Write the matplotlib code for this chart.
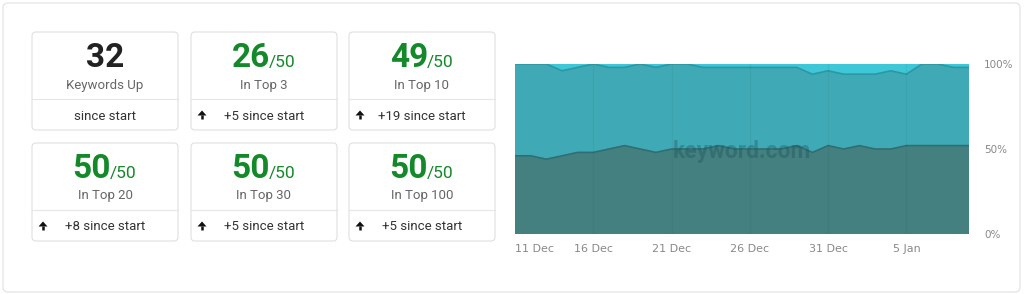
import matplotlib
matplotlib.use("Agg")
import matplotlib.pyplot as plt
from matplotlib.patches import FancyBboxPatch, Polygon
import numpy as np

plt.rcParams['font.family'] = ['Roboto', 'DejaVu Sans']

# ---- data ----
card_values = ['32', '26', '49', '50', '50', '50']
card_totals = [None, '50', '50', '50', '50', '50']
card_labels = ['Keywords Up', 'In Top 3', 'In Top 10', 'In Top 20', 'In Top 30', 'In Top 100']
card_changes = ['since start', '+5 since start', '+19 since start',
                '+8 since start', '+5 since start', '+5 since start']
card_arrows = [False, True, True, True, True, True]

dates = ['11 Dec', '12 Dec', '13 Dec', '14 Dec', '15 Dec', '16 Dec', '17 Dec', '18 Dec',
         '19 Dec', '20 Dec', '21 Dec', '22 Dec', '23 Dec', '24 Dec', '25 Dec', '26 Dec',
         '27 Dec', '28 Dec', '29 Dec', '30 Dec', '31 Dec', '1 Jan', '2 Jan', '3 Jan',
         '4 Jan', '5 Jan', '6 Jan', '7 Jan', '8 Jan', '9 Jan']
top3 = [23, 23, 22, 23, 24, 24, 25, 26, 25, 24, 25, 25, 25, 26, 25,
        25, 25, 25, 26, 24, 26, 25, 26, 25, 25, 26, 26, 26, 26, 26]
top10 = [50, 50, 50, 48, 49, 50, 49, 49, 50, 49, 50, 50, 49, 49, 49,
         49, 49, 49, 49, 47, 48, 47, 47, 47, 48, 47, 50, 50, 49, 49]
top100 = [50, 50, 50, 50, 50, 50, 50, 50, 50, 50, 50, 50, 50, 50, 50,
          50, 50, 50, 50, 50, 50, 50, 50, 50, 50, 50, 50, 50, 50, 50]
total_keywords = 50
tick_labels = ['11 Dec', '16 Dec', '21 Dec', '26 Dec', '31 Dec', '5 Jan']

W, H = 1024, 294
fig = plt.figure(figsize=(W / 100, H / 100), dpi=100)
fig.patch.set_facecolor('white')

# overlay axes in pixel coordinates
bg = fig.add_axes([0, 0, 1, 1])
bg.set_xlim(0, W)
bg.set_ylim(H, 0)
bg.axis('off')

bg.add_patch(FancyBboxPatch((3, 3), 1017, 289, boxstyle='round,pad=0,rounding_size=5',
                            fc='white', ec='#e4e4e4', lw=0.9))

green = '#14892a'
col_x = [32, 191, 349]
row_y = [32, 143]
cw, ch = 146, 98
for i in range(6):
    x0 = col_x[i % 3]
    y0 = row_y[i // 3]
    cx = x0 + cw / 2
    bg.add_patch(FancyBboxPatch((x0, y0), cw, ch, boxstyle='round,pad=0,rounding_size=4',
                                fc='white', ec='#e0e0e0', lw=0.8))
    bg.plot([x0, x0 + cw], [y0 + 67, y0 + 67], color='#e6e6e6', lw=0.8)
    if card_totals[i] is None:
        bg.text(cx, y0 + 35, card_values[i], ha='center', va='baseline',
                fontsize=24, fontweight='bold', color='#222222')
    else:
        bg.text(cx + 6, y0 + 35, card_values[i], ha='right', va='baseline',
                fontsize=24, fontweight='bold', color=green)
        bg.text(cx + 5, y0 + 35, '/' + card_totals[i], ha='left', va='baseline',
                fontsize=12.5, color=green)
    bg.text(cx, y0 + 53, card_labels[i], ha='center', va='center',
            fontsize=9.5, color='#666666')
    bg.text(cx, y0 + 84, card_changes[i], ha='center', va='center',
            fontsize=9.5, color='#333333')
    if card_arrows[i]:
        ax_ = x0 + 11
        ay = y0 + 83
        bg.add_patch(Polygon([[ax_ - 4.5, ay + 0.5], [ax_, ay - 4.5], [ax_ + 4.5, ay + 0.5]],
                             closed=True, fc='#111111', ec='none'))
        bg.plot([ax_, ax_], [ay, ay + 4], color='#111111', lw=1.8, solid_capstyle='butt')

# ---- stacked area chart ----
left, right, top, bottom = 515, 969, 64, 234
ax = fig.add_axes([left / W, (H - bottom) / H, (right - left) / W, (bottom - top) / H])

x = np.arange(len(dates))
p3 = np.array(top3) / total_keywords * 100
p10 = np.array(top10) / total_keywords * 100
p100 = np.array(top100) / total_keywords * 100

ax.stackplot(x, p3, p10 - p3, p100 - p10,
             colors=['#43807f', '#3faab5', '#3dc7d7'], lw=0)
ax.plot(x, p3, color='#2f6f74', lw=1.2)
ax.plot(x, p10, color='#2d97a3', lw=1.2)

tick_pos = [dates.index(t) for t in tick_labels]
for t in tick_pos[1:]:
    ax.axvline(t, color='#1e4a50', alpha=0.07, lw=1)

ax.text(0.5, 0.485, 'keyword.com', transform=ax.transAxes, ha='center', va='center',
        fontsize=16.5, fontweight='bold', color='#1c4f5c', alpha=0.35)

ax.set_xlim(0, len(dates) - 1)
ax.set_ylim(0, 100)
ax.set_xticks(tick_pos)
ax.set_xticklabels(tick_labels, family='DejaVu Sans')
ax.get_xticklabels()[0].set_horizontalalignment('left')
ax.yaxis.tick_right()
ax.set_yticks([0, 50, 100])
ax.set_yticklabels(['0%', '50%', '100%'], family='DejaVu Sans')
for lab in ax.get_yticklabels():
    lab.set_horizontalalignment('left')
ax.tick_params(axis='x', length=0, labelsize=8, colors='#888888', pad=7)
ax.tick_params(axis='y', length=0, labelsize=7.5, colors='#888888', pad=11)
for s in ax.spines.values():
    s.set_visible(False)

fig.savefig('out.png', dpi=100, facecolor='white')
